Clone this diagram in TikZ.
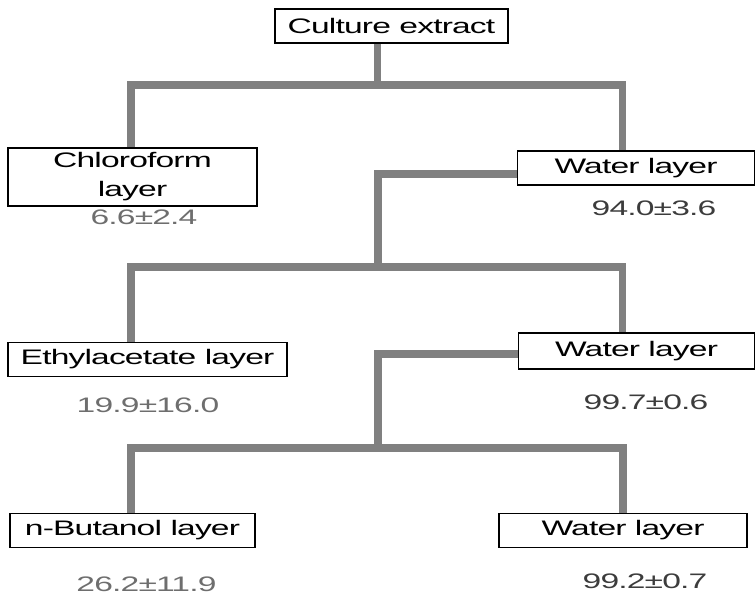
\documentclass[tikz,border=0pt]{standalone}
\usepackage{fontspec}
\setmainfont{Liberation Sans}[FakeStretch=1.6, LetterSpace=-4]
\usepackage{tikz}
\usetikzlibrary{positioning}

\definecolor{linegray}{HTML}{808080}
\definecolor{valleft}{HTML}{6E6E6E}
\definecolor{valright}{HTML}{3C3C3C}

\begin{document}
\begin{tikzpicture}[x=1pt, y=-1pt,
  layer/.style={draw=black, line width=1.8pt, minimum height=34pt, inner sep=2pt,
                font=\fontsize{21}{29}\selectfont, align=center},
  val/.style={inner sep=0pt, font=\fontsize{21}{22}\selectfont},
  conn/.style={draw=linegray, line width=7.5pt}
]
  \useasboundingbox (0,0) rectangle (755,595);
  % Fractions
  \node[layer, minimum width=233pt] (culture) at (391.5,26) {Culture extract};
  \node[layer, minimum width=249pt, minimum height=58pt] (chloro) at (132.5,177) {Chloroform\\layer};
  \node[layer, minimum width=237pt] (water1) at (636,168) {Water layer};
  \node[layer, minimum width=279pt] (ethyl) at (147.5,359.5) {Ethylacetate layer};
  \node[layer, minimum width=236pt, minimum height=36pt] (water2) at (636.5,351) {Water layer};
  \node[layer, minimum width=245pt] (butanol) at (132.5,530.5) {n-Butanol layer};
  \node[layer, minimum width=248pt] (water3) at (623,530.5) {Water layer};
  % Values
  \node[val, valleft] (v1) at (144,217) {6.6±2.4};
  \node[val, valright] (v2) at (654,208) {94.0±3.6};
  \node[val, valleft] (v3) at (148,405) {19.9±16.0};
  \node[val, valright] (v4) at (646,402) {99.7±0.6};
  \node[val, valleft] (v5) at (146.5,584) {26.2±11.9};
  \node[val, valright] (v6) at (645,581.5) {99.2±0.7};
  % Split points
  \coordinate (j1) at (377.5,85);
  \coordinate (b1l) at (131,85);
  \coordinate (b1r) at (622.5,85);
  \coordinate (j2) at (378,267);
  \coordinate (b2l) at (131,267);
  \coordinate (b2r) at (622.5,267);
  \coordinate (j3) at (378,448);
  \coordinate (b3l) at (131,448);
  \coordinate (b3r) at (623,448);
  % Tree
  \draw[conn] (culture.south -| j1) -- (j1);
  \draw[conn] (b1l |- chloro.north) -- (b1l) -- (b1r) -- (b1r |- water1.north);
  \draw[conn] ([yshift=-6pt]water1.west) -| (j2);
  \draw[conn] (b2l |- ethyl.north) -- (b2l) -- (b2r) -- (b2r |- water2.north);
  \draw[conn] ([yshift=-3pt]water2.west) -| (j3);
  \draw[conn] (b3l |- butanol.north) -- (b3l) -- (b3r) -- (b3r |- water3.north);
\end{tikzpicture}
\end{document}
